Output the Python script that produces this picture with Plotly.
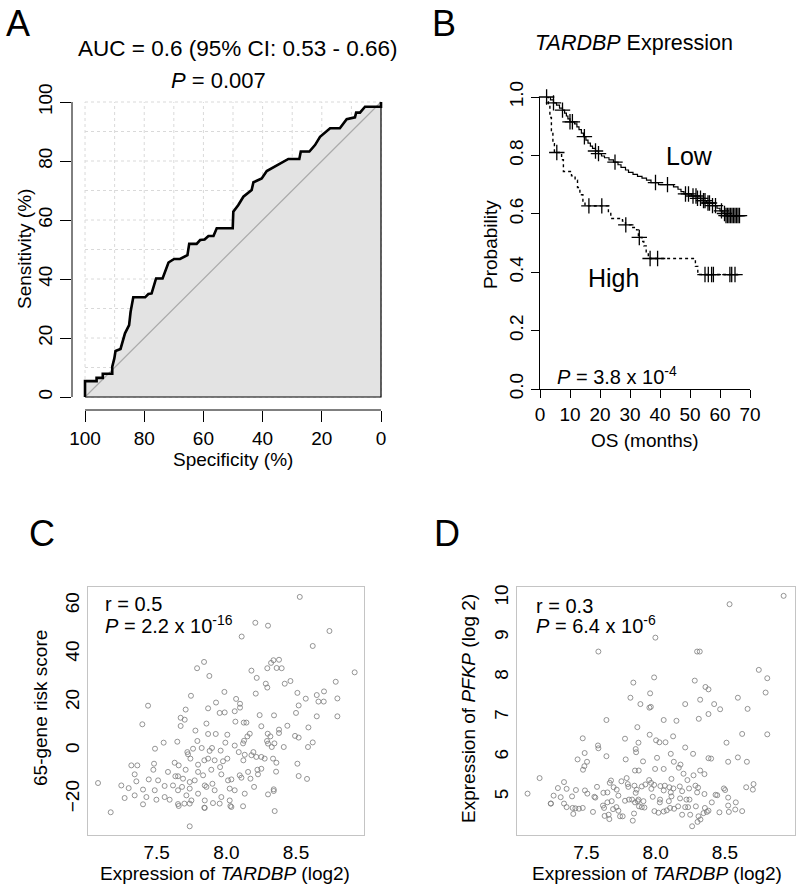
import plotly.graph_objects as go

W, H = 800, 892
FONT = "Liberation Sans, Arial, sans-serif"

# ---------------- Panel A: ROC curve ----------------
roc_specificity = [100, 100, 96.1, 96.1, 94.0, 94.0, 90.8, 90.8, 90.1, 89.7,
                   88.0, 86.5, 85.1, 84.6, 83.7, 79.7, 78.6, 77.5, 76.0, 73.8,
                   71.8, 69.9, 67.9, 65.4, 64.8, 62.3, 61.1, 59.6, 58.3, 56.6,
                   55.5, 50.1, 49.9, 48.2, 46.5, 43.7, 43.1, 40.3, 38.6, 35.8,
                   33.6, 31.3, 27.6, 27.1, 24.2, 22.3, 20.6, 18.4, 17.2, 13.9,
                   11.6, 8.8, 8.4, 7.1, 5.4, 0, 0]
roc_sensitivity = [0, 5.4, 5.4, 6.5, 6.5, 7.9, 7.9, 10.3, 13.1, 15.6,
                   16.3, 21.6, 24.4, 28.9, 33.8, 33.8, 34.9, 35.1, 40.2, 40.2,
                   45.6, 46.8, 46.8, 48.1, 51.9, 51.9, 53.2, 53.4, 54.6, 54.6,
                   57.2, 57.2, 62.8, 65.1, 67.9, 70.2, 72.8, 74.1, 76.6, 78.1,
                   79.2, 80.7, 80.7, 83.2, 83.2, 85.4, 88.2, 89.9, 91.1, 91.1,
                   94.2, 94.8, 96.4, 96.4, 98.4, 98.4, 100]
roc_ticks = [0, 20, 40, 60, 80, 100]
chance_line = [0, 100]

# ---------------- Panel B: Kaplan-Meier ----------------
low_time = [2.2, 3.5, 4.5, 5.5, 6.5, 7.5, 8.2, 8.8, 9.3, 10.0,
            11.5, 12.3, 13.0, 13.8, 14.5, 15.3, 16.0, 16.8, 17.5, 18.5,
            19.5, 20.5, 21.5, 23.0, 24.5, 26.0, 27.0, 28.5, 29.5, 31.0,
            32.5, 34.0, 35.5, 37.0, 39.5, 44.5, 46.0, 47.0, 48.0, 50.5,
            52.5, 54.0, 55.5, 57.5, 59.0, 60.0, 61.0, 62.0, 68.3]
low_surv = [1.0, 0.99, 0.98, 0.972, 0.962, 0.955, 0.945, 0.935, 0.925, 0.915,
            0.908, 0.898, 0.888, 0.876, 0.864, 0.852, 0.842, 0.832, 0.824, 0.815,
            0.806, 0.798, 0.792, 0.785, 0.777, 0.768, 0.759, 0.750, 0.742, 0.735,
            0.728, 0.722, 0.715, 0.707, 0.700, 0.692, 0.684, 0.676, 0.668, 0.661,
            0.653, 0.645, 0.637, 0.628, 0.619, 0.610, 0.601, 0.594, 0.594]
high_time = [2.2, 2.8, 3.3, 3.8, 4.3, 4.8, 7.2, 7.8, 10.5, 11.7,
             12.5, 13.3, 14.3, 15.0, 22.8, 23.6, 27.5, 28.5, 30.5, 32.2,
             32.8, 34.0, 34.6, 35.4, 36.1, 51.8, 52.6, 66.7]
high_surv = [1.0, 0.975, 0.93, 0.885, 0.84, 0.81, 0.785, 0.745, 0.73, 0.715,
             0.69, 0.665, 0.636, 0.627, 0.605, 0.584, 0.575, 0.562, 0.553, 0.545,
             0.519, 0.505, 0.49, 0.47, 0.447, 0.42, 0.392, 0.392]
low_censor_time = [2.2, 4.5, 7.5, 10.0, 10.8, 14.8, 18.5, 19.5, 25.0, 38.5,
                   42.5, 48.5, 49.5, 51.0, 52.0, 52.5, 53.5, 54.5, 55.0, 56.0,
                   56.5, 57.5, 58.5, 60.5, 61.5, 62.0, 62.5, 63.0, 63.5, 64.0,
                   64.5, 65.0, 65.5, 66.0, 66.5]
high_censor_time = [5.6, 16.3, 20.6, 28.6, 33.1, 36.7, 39.2, 55.0, 56.1, 57.2,
                    57.8, 63.3, 63.9, 65.0]
km_xticks = [0, 10, 20, 30, 40, 50, 60, 70]
km_yticks = [0.0, 0.2, 0.4, 0.6, 0.8, 1.0]

# ---------------- Panel C: TARDBP vs 65-gene risk score ----------------
tardbp_c = [8.527, 8.208, 8.299, 8.740, 8.110, 8.620, 7.840, 7.790, 8.321, 8.338,
            8.378, 8.294, 8.361, 8.397, 8.180, 7.878, 8.921, 8.218, 8.785, 8.460,
            8.419, 8.283, 8.294, 7.746, 7.986, 8.211, 8.510, 8.649, 8.701, 8.797,
            8.570, 8.661, 8.699, 8.070, 7.926, 8.098, 7.438, 7.869, 8.098, 7.708,
            8.519, 7.988, 7.952, 8.060, 8.500, 8.649, 8.797, 7.672, 7.701, 8.239,
            8.342, 7.397, 7.672, 8.065, 8.144, 8.125, 7.857, 8.251, 8.438, 8.589,
            8.378, 8.378, 7.778, 7.869, 7.924, 8.007, 8.168, 8.297, 8.316, 8.493,
            8.151, 7.550, 7.648, 7.792, 7.993, 8.127, 8.120, 8.060, 8.292, 8.299,
            8.326, 8.345, 8.519, 8.586, 8.620, 8.412, 7.488, 7.761, 7.823, 7.897,
            7.880, 7.959, 8.089, 8.194, 7.720,
            7.725, 7.742, 7.869, 7.916, 7.976, 8.007, 8.132, 8.122, 8.180, 8.215,
            8.251, 8.275, 8.335, 8.359, 8.510, 7.481, 7.629, 7.658, 7.318, 7.361,
            7.708, 7.842, 7.955, 7.797,
            7.581, 7.634, 7.653, 7.510, 7.342, 7.354, 7.246, 7.079, 8.519, 8.579,
            8.357, 7.476, 7.443, 7.557, 7.689, 7.737, 7.773, 7.833, 7.900, 7.964,
            8.012, 8.036, 8.096, 8.108, 8.173, 8.227, 8.251, 8.223, 8.156, 7.892,
            7.797, 7.617, 7.845,
            7.299, 7.402, 7.270, 7.342, 7.426, 7.486, 7.557, 7.653, 7.682, 7.737,
            7.797, 7.857, 7.916, 7.964, 8.024, 8.024, 8.060, 8.132, 8.199, 8.299,
            8.340, 8.340, 7.593, 7.749, 7.845, 7.498, 7.402, 7.713,
            7.170, 7.737, 8.347, 8.029, 8.036, 7.842, 7.845, 8.120, 7.653, 7.699,
            7.658, 7.737, 7.904, 7.952]
risk_score = [63.6, 52.9, 51.7, 49.5, 47.2, 43.3, 36.7, 34.1, 36.3, 37.4,
              37.6, 34.1, 34.2, 34.1, 33.1, 30.9, 32.4, 30.1, 28.5, 28.8,
              27.7, 27.7, 26.1, 22.7, 24.3, 23.6, 23.9, 23.0, 24.5, 21.6,
              21.5, 20.3, 20.3, 21.4, 19.9, 19.4, 18.6, 17.5, 17.8, 17.0,
              18.7, 15.8, 15.6, 16.3, 15.6, 14.2, 14.2, 13.6, 12.8, 14.7,
              14.6, 10.9, 10.2, 12.0, 11.6, 11.6, 11.2, 10.1, 10.3, 9.6,
              8.7, 7.3, 8.3, 6.9, 6.9, 6.6, 7.0, 7.0, 5.9, 6.1,
              5.9, 3.3, 3.7, 4.0, 3.3, 4.1, 3.0, 2.1, 4.0, 2.9,
              1.5, 3.0, 5.4, 1.5, 3.4, 1.5, 0.8, 0.8, 1.1, 1.1,
              -0.1, 0.0, -0.6, -0.6, -0.6,
              -1.5, -3.3, -3.3, -4.0, -4.4, -3.3, -1.7, -4.0, -1.9, -2.6,
              -2.6, -3.3, -3.3, -5.0, -5.4, -5.4, -5.0, -6.1, -6.1, -6.1,
              -7.9, -4.0, -6.8, -5.8,
              -8.8, -10.6, -10.6, -12.3, -9.8, -12.7, -14.4, -13.4, -10.5, -11.7,
              -8.7, -7.9, -11.9, -14.6, -11.6, -13.0, -12.3, -10.2, -13.7, -9.8,
              -12.3, -11.9, -10.2, -11.2, -11.6, -9.8, -7.5, -7.9, -8.8, -7.9,
              -8.8, -14.4, -14.4,
              -15.5, -16.1, -19.6, -18.5, -19.2, -16.4, -19.2, -16.4, -15.0, -15.7,
              -17.8, -15.0, -16.4, -19.2, -15.7, -20.6, -16.4, -17.8, -15.0, -18.1,
              -16.0, -16.7, -20.3, -20.6, -20.6, -20.3, -22.2, -18.5,
              -25.5, -31.3, -25.0, -22.9, -23.3, -23.6, -23.7, -23.0, -22.1, -21.9,
              -22.9, -21.9, -21.7, -21.9]
c_yticks = [-20, 0, 20, 40, 60]
expr_ticks = [7.5, 8.0, 8.5]

# ---------------- Panel D: TARDBP vs PFKP ----------------
tardbp_d = [8.923, 8.533, 7.998, 7.587, 8.299, 8.318,
            8.744, 8.805, 7.989, 8.282, 7.839, 8.359, 8.381,
            8.793, 7.960, 7.818, 8.593, 8.321, 7.890, 8.213, 8.422, 7.965, 7.955, 8.465, 8.663,
            8.381, 7.645, 8.058, 8.150, 8.311, 7.868, 8.624, 8.805, 7.957, 7.474, 7.779, 8.003, 8.027, 8.071, 8.126,
            7.584, 7.587, 7.856, 7.859, 7.876, 8.511, 8.213, 7.488, 8.270, 8.109,
            7.437, 7.645, 7.784, 7.909, 8.010, 8.131, 8.381, 8.400, 8.523, 8.593,
            8.658, 7.505, 7.486, 7.476, 8.179, 8.167, 8.058, 7.851, 7.878, 7.996,
            8.321, 8.352, 8.201, 8.273,
            7.163, 7.076, 7.339, 7.295, 7.358, 7.264, 7.243, 7.315, 7.397, 7.425,
            7.490, 7.507, 7.558, 7.577, 7.565, 7.623, 7.652, 7.678, 7.669, 7.697,
            7.719, 7.731, 7.753, 7.791, 7.799, 7.803, 7.847, 7.863, 7.856, 7.900,
            7.926, 7.953, 7.967, 7.969, 7.989, 7.979, 8.034, 8.066, 8.058, 8.099,
            8.114, 8.109, 8.114, 8.128, 8.174, 8.191, 8.229, 8.241, 8.287, 8.306,
            8.299, 8.352, 8.432, 8.444, 8.492, 8.501, 8.523, 8.653, 8.706, 8.701,
            7.245, 7.339, 7.358, 7.401, 7.421, 7.447, 7.474, 7.406, 7.548, 7.620,
            7.652, 7.683, 7.628, 7.632, 7.666, 7.693, 7.717, 7.731, 7.743, 7.762,
            7.779, 7.808, 7.830, 7.851, 7.871, 7.880, 7.900, 7.919, 7.876, 7.912,
            8.030, 7.991, 8.020, 8.058, 8.080, 8.104, 8.133, 8.162, 8.191, 8.213,
            8.234, 8.249, 8.290, 8.309, 8.323, 8.302, 8.263, 8.345, 8.369, 8.381,
            8.355, 8.405, 8.460, 8.523, 8.578, 8.528, 8.574, 8.624, 8.032, 8.095,
            8.176, 8.222, 8.244, 7.835, 7.844, 7.661]
pfkp = [10.05, 9.84, 9.00, 8.65, 8.65, 8.65,
        8.19, 7.98, 8.00, 7.92, 7.87, 7.76, 7.70,
        7.62, 7.60, 7.49, 7.49, 7.44, 7.33, 7.33, 7.33, 7.26, 7.24, 7.20, 7.21,
        7.08, 6.93, 6.93, 6.91, 6.96, 6.75, 6.58, 6.57, 6.56, 6.47, 6.46, 6.42, 6.37, 6.37, 6.52,
        6.29, 6.22, 6.20, 6.12, 6.36, 6.36, 6.24, 6.10, 6.08, 6.08,
        5.94, 6.02, 5.94, 5.89, 5.98, 5.88, 5.97, 5.96, 5.88, 5.99,
        5.88, 5.88, 5.77, 5.68, 5.81, 5.73, 5.70, 5.66, 5.66, 5.70,
        5.66, 5.57, 5.58, 5.54,
        5.47, 5.08, 5.37, 5.22, 5.20, 5.03, 4.83, 4.99, 5.01, 5.17,
        5.16, 5.08, 5.00, 5.25, 4.98, 5.10, 5.11, 5.41, 5.35, 5.24,
        5.18, 5.03, 5.39, 5.47, 5.32, 5.25, 5.28, 5.18, 5.10, 5.26,
        5.31, 5.42, 5.35, 5.20, 5.30, 5.00, 5.27, 5.28, 5.16, 5.24,
        5.45, 5.11, 5.01, 5.21, 5.26, 5.14, 5.42, 5.21, 5.28, 5.23,
        5.11, 5.07, 5.05, 5.04, 5.21, 5.17, 4.98, 5.24, 5.32, 5.18,
        4.83, 4.83, 4.74, 4.72, 4.71, 4.70, 4.72, 4.57, 4.62, 4.78,
        4.86, 4.89, 4.72, 4.52, 4.44, 4.69, 4.74, 4.65, 4.51, 4.51,
        4.90, 4.93, 4.93, 4.86, 4.89, 4.76, 4.74, 4.73, 4.93, 4.89,
        4.86, 4.64, 4.60, 4.63, 4.66, 4.72, 4.70, 4.76, 4.55, 4.74,
        4.74, 4.55, 4.76, 4.51, 4.43, 4.37, 4.26, 4.59, 4.62, 4.65,
        4.72, 4.86, 4.61, 4.78, 4.86, 4.62, 4.68, 4.64, 4.93, 4.89,
        4.96, 4.93, 4.93, 4.40, 4.58, 4.55]
d_yticks = [5, 6, 7, 8, 9, 10]


def fx(px):
    return px / W


def fy(py):
    return 1 - py / H


def surv_at(times, survs, t):
    s = survs[0]
    for ti, si in zip(times, survs):
        if ti <= t:
            s = si
    return s


fig = go.Figure()

# ---- A traces ----
poly_x = roc_specificity + [chance_line[0], chance_line[1]]
poly_y = roc_sensitivity + [chance_line[0], chance_line[0]]
fig.add_trace(go.Scatter(x=poly_x, y=poly_y, mode="lines", fill="toself",
                         fillcolor="#e3e3e3", line=dict(color="black", width=1.2),
                         xaxis="x", yaxis="y", hoverinfo="skip"))
fig.add_trace(go.Scatter(x=chance_line[::-1], y=chance_line, mode="lines",
                         line=dict(color="#aaaaaa", width=1.2), xaxis="x", yaxis="y"))
fig.add_trace(go.Scatter(x=roc_specificity, y=roc_sensitivity, mode="lines",
                         line=dict(color="black", width=2.6), xaxis="x", yaxis="y"))

# ---- B traces ----
fig.add_trace(go.Scatter(x=low_time, y=low_surv, mode="lines", line_shape="hv",
                         line=dict(color="black", width=1.2), xaxis="x2", yaxis="y2"))
fig.add_trace(go.Scatter(x=high_time, y=high_surv, mode="lines", line_shape="hv",
                         line=dict(color="black", width=1.4, dash="dot"),
                         xaxis="x2", yaxis="y2"))
cross = dict(symbol="cross-thin", size=11, line=dict(color="black", width=1.3))
fig.add_trace(go.Scatter(x=low_censor_time,
                         y=[surv_at(low_time, low_surv, t) for t in low_censor_time],
                         mode="markers", marker=cross, cliponaxis=False,
                         xaxis="x2", yaxis="y2"))
fig.add_trace(go.Scatter(x=high_censor_time,
                         y=[surv_at(high_time, high_surv, t) for t in high_censor_time],
                         mode="markers", marker=cross, cliponaxis=False,
                         xaxis="x2", yaxis="y2"))

# ---- C / D scatter ----
circ = dict(symbol="circle-open", size=5, color="#7a7a7a", line=dict(width=0.8))
fig.add_trace(go.Scatter(x=tardbp_c, y=risk_score, mode="markers", marker=circ,
                         xaxis="x3", yaxis="y3"))
fig.add_trace(go.Scatter(x=tardbp_d, y=pfkp, mode="markers", marker=circ,
                         xaxis="x4", yaxis="y4"))

# ---- grid + detached axis lines for A ----
shapes = []
for v in range(0, 101, 10):
    shapes.append(dict(type="line", xref="x", yref="y", x0=v, x1=v, y0=0, y1=100,
                       line=dict(color="#d9d9d9", width=1, dash="dot"), layer="below"))
    shapes.append(dict(type="line", xref="x", yref="y", x0=100, x1=0, y0=v, y1=v,
                       line=dict(color="#d9d9d9", width=1, dash="dot"), layer="below"))
shapes.append(dict(type="line", xref="x", yref="y domain", x0=roc_ticks[-1], x1=roc_ticks[0],
                   y0=0, y1=0, line=dict(color="black", width=1)))
shapes.append(dict(type="line", xref="x domain", yref="y", x0=0, x1=0,
                   y0=roc_ticks[0], y1=roc_ticks[-1], line=dict(color="black", width=1)))

tickfont = dict(family=FONT, size=19, color="black")
common = dict(showgrid=False, zeroline=False, tickfont=tickfont, automargin=False)

fig.update_layout(
    template="none",
    width=W, height=H, margin=dict(l=0, r=0, t=0, b=0, pad=0), autosize=False,
    paper_bgcolor="white", plot_bgcolor="white", showlegend=False,
    font=dict(family=FONT, color="black"),
    shapes=shapes,
    xaxis=dict(domain=[fx(72), fx(385)], range=[104.4, -1.35], anchor="y",
               tickvals=roc_ticks, ticks="outside", ticklen=11, tickcolor="black",
               tickwidth=1, showline=False, **common),
    yaxis=dict(domain=[fy(410), fy(98)], range=[-4.4, 101.36], anchor="x",
               tickvals=roc_ticks, ticks="outside", ticklen=11, tickcolor="black",
               tickwidth=1, tickangle=-90, showline=False, **common),
    xaxis2=dict(domain=[fx(540), fx(750)], range=[0, 70], anchor="y2",
                tickvals=km_xticks, ticks="outside", ticklen=8, tickcolor="black",
                tickwidth=1, showline=True, linecolor="black", linewidth=1, **common),
    yaxis2=dict(domain=[fy(389), fy(97)], range=[0, 1.0], anchor="x2",
                tickvals=km_yticks, tickformat=".1f", ticks="outside", ticklen=8,
                tickwidth=1, tickcolor="black", tickangle=-90, showline=True,
                linecolor="black", linewidth=1, **common),
    xaxis3=dict(domain=[fx(88), fx(364)], range=[7.007, 8.988], anchor="y3",
                tickvals=expr_ticks, tickformat=".1f", ticks="", showline=True,
                mirror=True, linecolor="#c4c4c4", linewidth=1, **common),
    yaxis3=dict(domain=[fy(835), fy(587)], range=[-34.9, 67.7], anchor="x3",
                tickvals=c_yticks, ticks="", tickangle=-90, showline=True,
                mirror=True, linecolor="#c4c4c4", linewidth=1, **common),
    xaxis4=dict(domain=[fx(517), fx(795)], range=[7.0, 9.005], anchor="y4",
                tickvals=expr_ticks, tickformat=".1f", ticks="", showline=True,
                mirror=True, linecolor="#c4c4c4", linewidth=1, **common),
    yaxis4=dict(domain=[fy(835), fy(586.7)], range=[4.04, 10.28], anchor="x4",
                tickvals=d_yticks, ticks="", tickangle=-90, showline=True,
                mirror=True, linecolor="#c4c4c4", linewidth=1, **common),
)


def ann(text, x, y, size, angle=0, xanchor="center"):
    fig.add_annotation(text=text, x=fx(x), y=fy(y), xref="paper", yref="paper",
                       showarrow=False, textangle=angle, xanchor=xanchor, yanchor="middle",
                       font=dict(family=FONT, size=size, color="black"))


# panel letters
ann("A", 18, 23, 36)
ann("B", 444, 23, 36)
ann("C", 42, 533, 36)
ann("D", 447, 533, 36)
# A texts
ann("AUC = 0.6 (95% CI: 0.53 - 0.66)", 238, 48, 22.5)
ann("<i>P</i> = 0.007", 218, 80, 22)
ann("Sensitivity (%)", 25, 249, 19, angle=-90)
ann("Specificity (%)", 233, 459, 19)
# B texts
ann("<i>TARDBP</i> Expression", 634, 43, 21.5)
ann("Probability", 491, 245, 19, angle=-90)
ann("OS (months)", 645, 440, 19)
ann("Low", 689, 156, 25)
ann("High", 613, 278, 25)
ann("<i>P</i> = 3.8 x 10<sup>-4</sup>", 555, 375, 20, xanchor="left")
# C texts
ann("65-gene risk score", 40, 708, 19, angle=-90)
ann("Expression of <i>TARDBP</i> (log2)", 225, 873, 19)
ann("r = 0.5", 103, 604, 20, xanchor="left")
ann("<i>P</i> = 2.2 x 10<sup>-16</sup>", 103, 624, 20, xanchor="left")
# D texts
ann("Expression of <i>PFKP</i> (log 2)", 468, 709, 19, angle=-90)
ann("Expression of <i>TARDBP</i> (log2)", 657, 873, 19)
ann("r = 0.3", 534, 606, 20, xanchor="left")
ann("<i>P</i> = 6.4 x 10<sup>-6</sup>", 534, 624, 20, xanchor="left")

fig.write_html("out.html",
               config={"displayModeBar": False, "staticPlot": True},
               post_script="document.body.style.margin='0px';"
                           "document.body.style.overflow='hidden';")
